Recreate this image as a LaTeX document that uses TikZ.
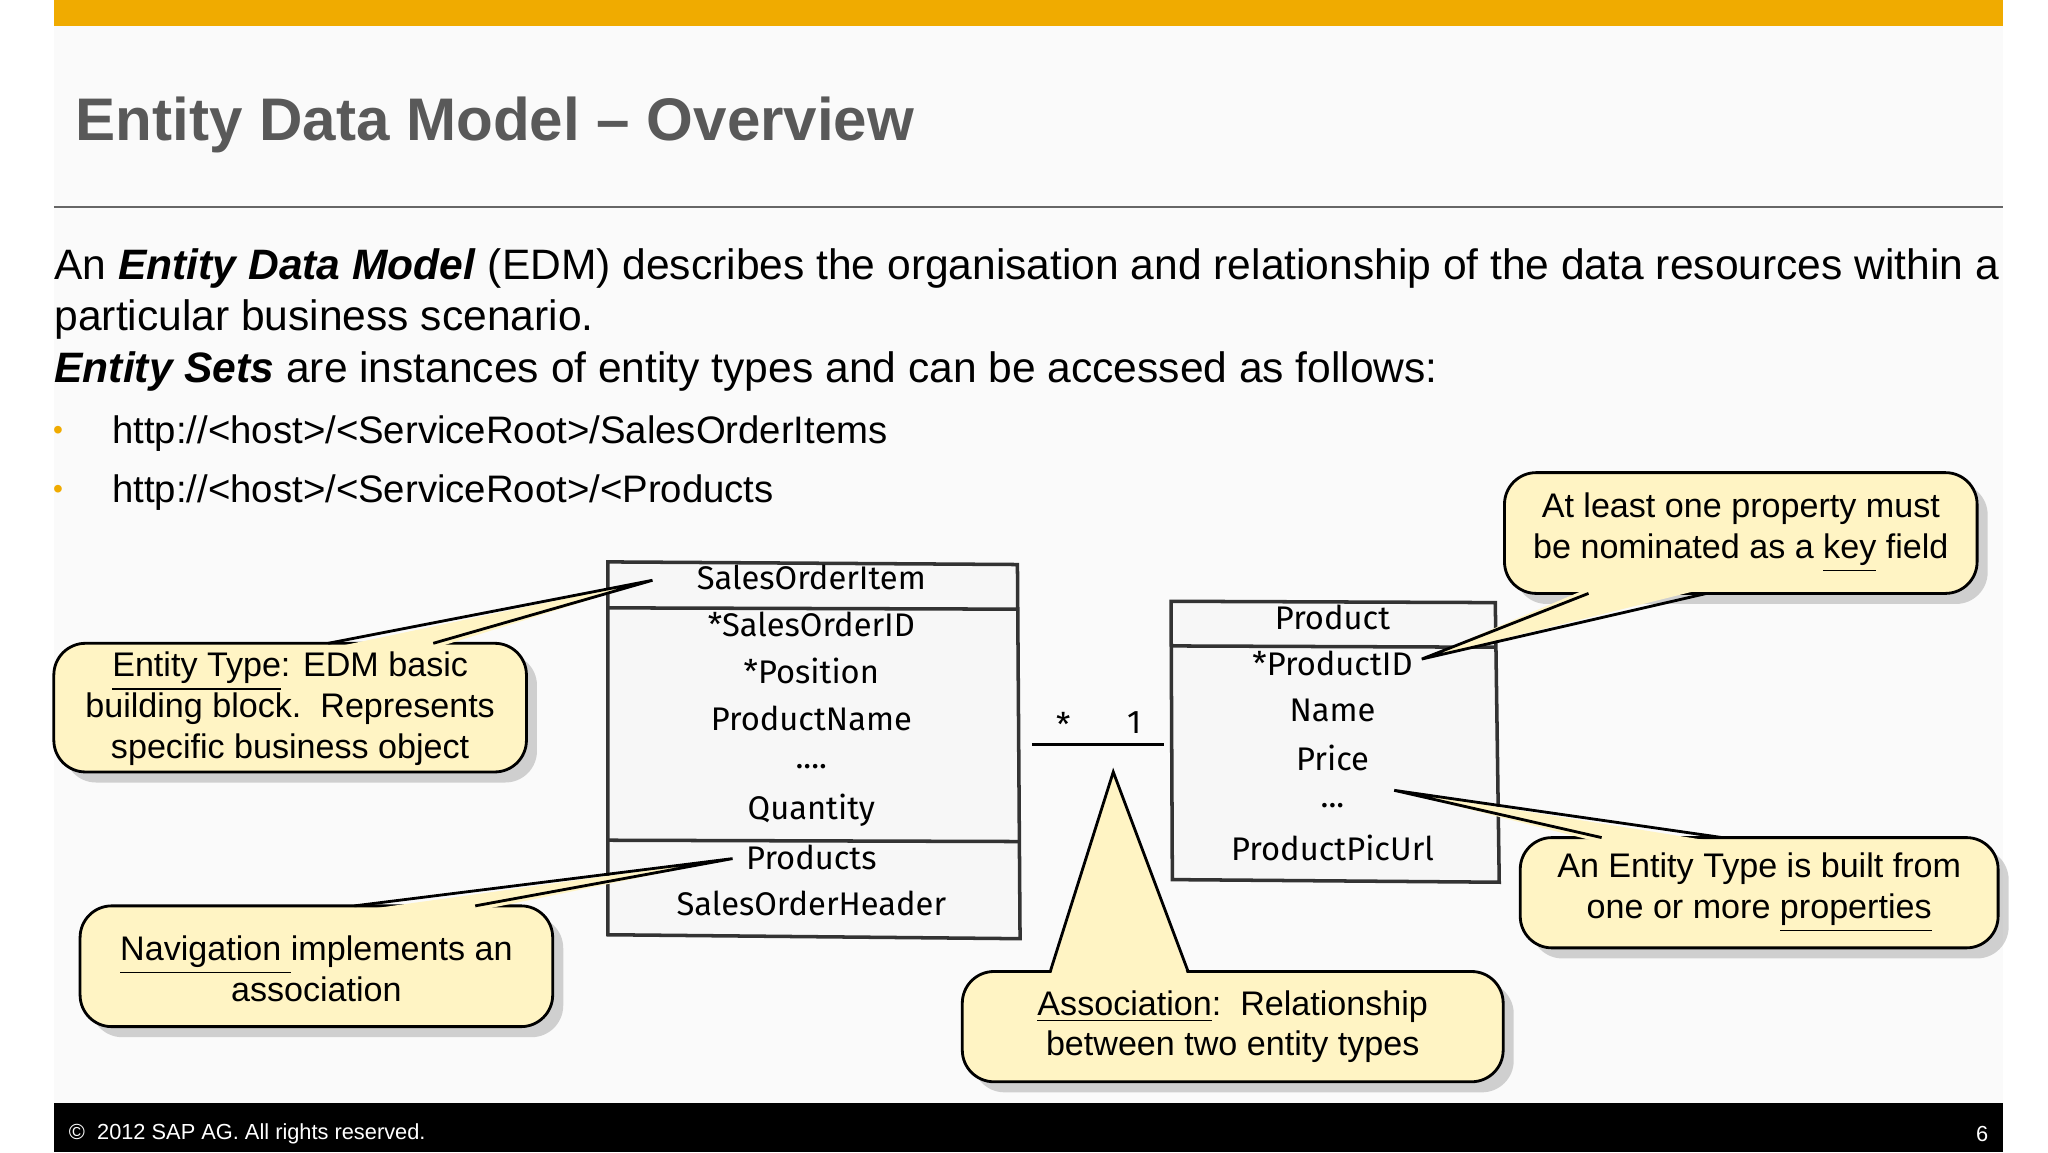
\documentclass[tikz,border=0pt]{standalone}
\usepackage{fontspec}
\setmainfont{Liberation Sans}
\newfontfamily\hand{Fira Sans}
\usetikzlibrary{shadows}
\definecolor{sapgold}{HTML}{F0AB00}
\definecolor{callfill}{HTML}{FFF4C4}
\begin{document}
\begin{tikzpicture}[x=0.013128cm,y=-0.013128cm,
  body/.style={anchor=base west,inner sep=0pt,font=\fontsize{12.1}{14}\selectfont},
  url/.style={anchor=base west,inner sep=0pt,font=\fontsize{10.9}{14}\selectfont},
  ctext/.style={align=center,font=\fontsize{9.7}{11.6}\selectfont,inner sep=0pt},
  uml/.style={font=\hand\fontsize{9.3}{11}\selectfont,inner sep=0pt},
  cbox/.style={fill=callfill,draw=black,line width=0.8pt,rounded corners=9pt,drop shadow={shadow xshift=3pt,shadow yshift=-3pt,opacity=0.35}},
  ptr/.style={fill=callfill},
  pside/.style={draw=black,line width=0.8pt},
  umlbox/.style={draw=black!80,line width=1pt,fill=black!3}]
\useasboundingbox (0,0) rectangle (1560,877.5);
\fill[white] (0,0) rectangle (1560,877.5);
\fill[black!2] (41,20) rectangle (1526,840);
\fill[sapgold] (41,0) rectangle (1526,20);
\node[anchor=base west,inner sep=0pt,text=black!65,font=\bfseries\fontsize{17.1}{18}\selectfont] (title) at (57,107) {Entity Data Model -- Overview};
\draw[black!60,line width=0.6pt] (41,158) -- (1526,158);
\node[body] (l1) at (41,213) {An \textbf{\textit{Entity Data Model}} (EDM) describes the organisation and relationship of the data resources within a};
\node[body] (l2) at (41,252) {particular business scenario.};
\node[body] (l3) at (41,291) {\textbf{\textit{Entity Sets}} are instances of entity types and can be accessed as follows:};
\node[body,text=sapgold,font=\fontsize{8}{10}\selectfont] (b1) at (40,335) {•};
\node[body,text=sapgold,font=\fontsize{8}{10}\selectfont] (b2) at (40,380) {•};
\node[url] (u1) at (85,338) {http://<host>/<ServiceRoot>/SalesOrderItems};
\node[url] (u2) at (85,383) {http://<host>/<ServiceRoot>/<Products};
% UML boxes
\draw[umlbox] (463,428) -- (775,430) -- (777,715) -- (463,712) -- cycle;
\draw[black!80,line width=1pt] (463,463) -- (775,464);
\draw[black!80,line width=1pt] (463,640) -- (776,641);
\node[uml] (s1) at (618,440) {SalesOrderItem};
\node[uml] (s2) at (618,476) {*SalesOrderID};
\node[uml] (s3) at (618,511) {*Position};
\node[uml] (s4) at (618,547) {ProductName};
\node[uml] (s5) at (618,584) {....};
\node[uml] (s6) at (618,617) {Quantity};
\node[uml] (s7) at (618,653) {Products};
\node[uml] (s8) at (618,688) {SalesOrderHeader};
\draw[umlbox] (892,458) -- (1139,459) -- (1142,672) -- (893,670) -- cycle;
\draw[black!80,line width=1pt] (892,492) -- (1140,493);
\node[uml] (p1) at (1015,470) {Product};
\node[uml] (p2) at (1015,505) {*ProductID};
\node[uml] (p3) at (1015,541) {Name};
\node[uml] (p4) at (1015,577) {Price};
\node[uml] (p5) at (1015,614) {...};
\node[uml] (p6) at (1015,646) {ProductPicUrl};
\coordinate (aL) at (786,567); \coordinate (aR) at (887,567);
\draw[black,line width=1pt] (aL) -- (aR);
\node[uml] (star) at (810,552) {*};
\node[uml] (one) at (864,550) {1};
% callouts
\draw[cbox] (41,490) rectangle (401,588);
\coordinate (t1) at (497,442);
\fill[ptr] (250,494) -- (t1) -- (330,494) -- cycle;
\draw[pside] (250,490) -- (t1) -- (330,490);
\node[ctext] (c1) at (221,540) {\underline{Entity Type}: EDM basic\\building block.\ \ Represents\\specific business object};
\draw[cbox] (61,690) rectangle (421,782);
\coordinate (t2) at (558,654);
\fill[ptr] (270,694) -- (t2) -- (362,694) -- cycle;
\draw[pside] (270,690) -- (t2) -- (362,690);
\node[ctext] (c2) at (241,738) {\underline{Navigation }implements an\\association};
\draw[cbox] (733,740) rectangle (1145,824);
\coordinate (t3) at (848,588);
\fill[ptr] (800,744) -- (t3) -- (905,744) -- cycle;
\draw[pside] (800,740) -- (t3) -- (905,740);
\node[ctext] (c3) at (939,782) {\underline{Association}:\ \ Relationship\\between two entity types};
\draw[cbox] (1146,360) rectangle (1506,452);
\coordinate (t4) at (1083,502);
\fill[ptr] (1210,448) -- (t4) -- (1300,448) -- cycle;
\draw[pside] (1210,452) -- (t4) -- (1300,452);
\node[ctext] (c4) at (1326,406) {At least one property must\\be nominated as a \underline{key} field};
\draw[cbox] (1158,638) rectangle (1522,722);
\coordinate (t5) at (1062,602);
\fill[ptr] (1220,642) -- (t5) -- (1312,642) -- cycle;
\draw[pside] (1220,638) -- (t5) -- (1312,638);
\node[ctext] (c5) at (1340,680) {An Entity Type is built from\\one or more \underline{properties}};
\fill[black] (41,840) rectangle (1526,877.5);
\node[anchor=west,text=white,inner sep=0pt,font=\fontsize{6.2}{8}\selectfont] (foot) at (52,864) {©\ \ 2012 SAP AG. All rights reserved.};
\node[anchor=east,text=white,inner sep=0pt,font=\fontsize{6.2}{8}\selectfont] (pg) at (1515,864) {6};
\end{tikzpicture}
\end{document}
